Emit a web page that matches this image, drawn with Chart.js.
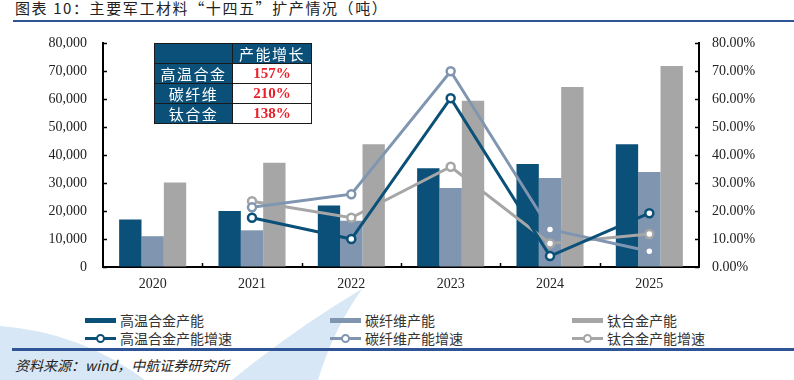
<!DOCTYPE html>
<html>
<head>
<meta charset="utf-8">
<script src="https://cdn.jsdelivr.net/npm/chart.js@4/dist/chart.umd.min.js"></script>
<style>
  html, body { margin: 0; padding: 0; background: #fff; }
  #page { position: relative; width: 794px; height: 380px; overflow: hidden; font-family: "Noto Sans CJK SC", sans-serif; }
  #title { position: absolute; left: 15px; top: -3px; font-size: 15px; color: #222; letter-spacing: 1.6px; white-space: nowrap; }
  #titleRule { position: absolute; left: 13px; right: 0; top: 19.5px; height: 2.5px; background: #2f5496; }
  #chartBox { position: absolute; left: 0; top: 0; width: 794px; height: 295px; }
  #wm { position: absolute; left: 0; top: 0; }
  #growthTable { position: absolute; left: 154px; top: 43px; border-collapse: collapse; font-size: 15px; }
  #growthTable td { border: 1.5px solid #1a1a1a; height: 19px; padding: 0; text-align: center; line-height: 19px; }
  #growthTable td.head { background: #0b5078; color: #fff; width: 77px; letter-spacing: 1.5px; }
  #growthTable td.val { background: #fff; color: #e8202a; width: 78px; font-family: "Liberation Serif", serif; font-weight: bold; font-size: 15px; }
  #legend { position: absolute; left: 0; top: 311px; width: 794px; height: 36px; font-size: 14px; color: #333; }
  .lg { position: absolute; height: 18px; line-height: 18px; white-space: nowrap; }
  .lg .sw { position: absolute; left: 0; top: 7px; width: 31px; height: 5px; }
  .lg .ln { position: absolute; left: 0; top: 8px; width: 31px; height: 3px; }
  .lg .dot { position: absolute; left: 11px; top: 5px; width: 5px; height: 5px; border-radius: 50%; background: #fff; border-width: 2.5px; border-style: solid; }
  .lg .tx { position: absolute; left: 35px; top: 0; }
  #bottomRule { position: absolute; left: 12px; right: 0; top: 348px; height: 2.5px; background: #2f5496; }
  #source { position: absolute; left: 15px; top: 355px; font-size: 14px; font-style: italic; color: #222; white-space: nowrap; }
</style>
</head>
<body>
<div id="page">
  <svg id="wm" width="794" height="380">
    <path d="M0,326 Q80,332 145,380 L0,380 Z" fill="#d7e7f5"/>
    <path d="M362,289 Q296,328 232,380 L318,380 Q334,328 362,289 Z" fill="#d7e7f5"/>
  </svg>
  <div id="title">图表 10：主要军工材料“十四五”扩产情况（吨）</div>
  <div id="titleRule"></div>
  <div id="chartBox"><canvas id="chart"></canvas></div>
  <table id="growthTable"></table>
  <div id="legend"></div>
  <div id="bottomRule"></div>
  <div id="source">资料来源：wind，中航证券研究所</div>
</div>
<script>
// categories
const years = ['2020', '2021', '2022', '2023', '2024', '2025'];

// capacity (tons)
const superalloyCap = [17000, 20000, 22000, 35300, 36800, 43800];
const carbonFiberCap = [11000, 13100, 16500, 28200, 31800, 33900];
const titaniumCap = [30200, 37200, 43800, 59400, 64300, 71800];

// growth rate (%)
const superalloyGrowth = [null, 17.6, 10.0, 60.3, 3.9, 19.2];
const carbonFiberGrowth = [null, 21.3, 26.0, 69.9, 13.4, 5.6];
const titaniumGrowth = [null, 23.5, 17.6, 35.8, 8.4, 11.8];

// inset table
const tableHeader = '产能增长';
const tableNames = ['高温合金', '碳纤维', '钛合金'];
const tableValues = ['157%', '210%', '138%'];

const DARK = '#0b5078';
const STEEL = '#8096b0';
const GREY = '#a6a6a6';

const tickFont = { family: 'Liberation Serif', size: 14 };

// small inward tick marks like the original
const innerTicks = {
    id: 'innerTicks',
    afterDraw(chart) {
        const ctx = chart.ctx;
        const x = chart.scales.x, y = chart.scales.y, y1 = chart.scales.y1;
        ctx.save();
        ctx.strokeStyle = '#000';
        ctx.lineWidth = 1.5;
        ctx.beginPath();
        y.ticks.forEach((t, i) => {
            const p = Math.round(y.getPixelForTick(i)) + 0.5;
            ctx.moveTo(y.right, p); ctx.lineTo(y.right + 4, p);
        });
        y1.ticks.forEach((t, i) => {
            const p = Math.round(y1.getPixelForTick(i)) + 0.5;
            ctx.moveTo(y1.left - 4, p); ctx.lineTo(y1.left, p);
        });
        for (let i = 0; i < years.length - 1; i++) {
            const p = Math.round((x.getPixelForValue(i) + x.getPixelForValue(i + 1)) / 2) + 0.5;
            ctx.moveTo(p, x.top); ctx.lineTo(p, x.top - 4);
        }
        ctx.stroke();
        ctx.restore();
    }
};

function lineSet(label, data, color) {
    return {
        type: 'line',
        label: label,
        data: data,
        yAxisID: 'y1',
        borderColor: color,
        backgroundColor: '#fff',
        borderWidth: 3,
        pointRadius: 4,
        pointBorderWidth: 2.5,
        pointBackgroundColor: '#fff',
        pointBorderColor: color,
        tension: 0,
        order: 0
    };
}

function barSet(label, data, color) {
    return {
        type: 'bar',
        label: label,
        data: data,
        yAxisID: 'y',
        backgroundColor: color,
        borderWidth: 0,
        barPercentage: 1,
        categoryPercentage: 0.675,
        order: 1
    };
}

const datasets = [
    barSet('高温合金产能', superalloyCap, DARK),
    barSet('碳纤维产能', carbonFiberCap, STEEL),
    barSet('钛合金产能', titaniumCap, GREY),
    lineSet('高温合金产能增速', superalloyGrowth, DARK),
    lineSet('碳纤维产能增速', carbonFiberGrowth, STEEL),
    lineSet('钛合金产能增速', titaniumGrowth, GREY)
];

const chart = new Chart(document.getElementById('chart'), {
    data: { labels: years, datasets: datasets },
    options: {
        responsive: true,
        maintainAspectRatio: false,
        animation: false,
        layout: { padding: { top: 43, left: 0, right: 0, bottom: 0 } },
        plugins: { legend: { display: false }, tooltip: { enabled: false } },
        scales: {
            x: {
                grid: { display: true, drawOnChartArea: false, drawTicks: false },
                border: { display: true, color: '#000', width: 2 },
                ticks: { font: tickFont, color: '#222', padding: 9 },
                afterFit: s => { s.height = 28; }
            },
            y: {
                position: 'left',
                min: 0, max: 80000,
                grid: { display: true, drawOnChartArea: false, drawTicks: false },
                border: { display: true, color: '#000', width: 2 },
                ticks: {
                    stepSize: 10000, font: tickFont, color: '#222', padding: 16,
                    callback: v => v.toLocaleString('en-US')
                },
                afterFit: s => { s.width = 103; }
            },
            y1: {
                position: 'right',
                min: 0, max: 80,
                grid: { display: true, drawOnChartArea: false, drawTicks: false },
                border: { display: true, color: '#000', width: 2 },
                ticks: {
                    stepSize: 10, font: tickFont, color: '#222', padding: 13,
                    callback: v => v.toFixed(2) + '%'
                },
                afterFit: s => { s.width = 95; }
            }
        }
    },
    plugins: [innerTicks]
});

// inset growth table
const table = document.getElementById('growthTable');
let rows = '<tr><td class="head"></td><td class="head">' + tableHeader + '</td></tr>';
tableNames.forEach((n, i) => {
    rows += '<tr><td class="head">' + n + '</td><td class="val">' + tableValues[i] + '</td></tr>';
});
table.innerHTML = rows;

// legend built from the chart datasets
const legendCols = [85, 330, 572];
const legendRows = [0, 18];
const legend = document.getElementById('legend');
chart.data.datasets.forEach((ds, i) => {
    const col = i % 3, row = Math.floor(i / 3);
    const item = document.createElement('div');
    item.className = 'lg';
    item.style.left = legendCols[col] + 'px';
    item.style.top = legendRows[row] + 'px';
    const color = ds.type === 'bar' ? ds.backgroundColor : ds.borderColor;
    if (ds.type === 'bar') {
        item.innerHTML = '<span class="sw" style="background:' + color + '"></span>';
    } else {
        item.innerHTML = '<span class="ln" style="background:' + color + '"></span>' +
            '<span class="dot" style="border-color:' + color + '"></span>';
    }
    item.innerHTML += '<span class="tx">' + ds.label + '</span>';
    legend.appendChild(item);
});
</script>
</body>
</html>
